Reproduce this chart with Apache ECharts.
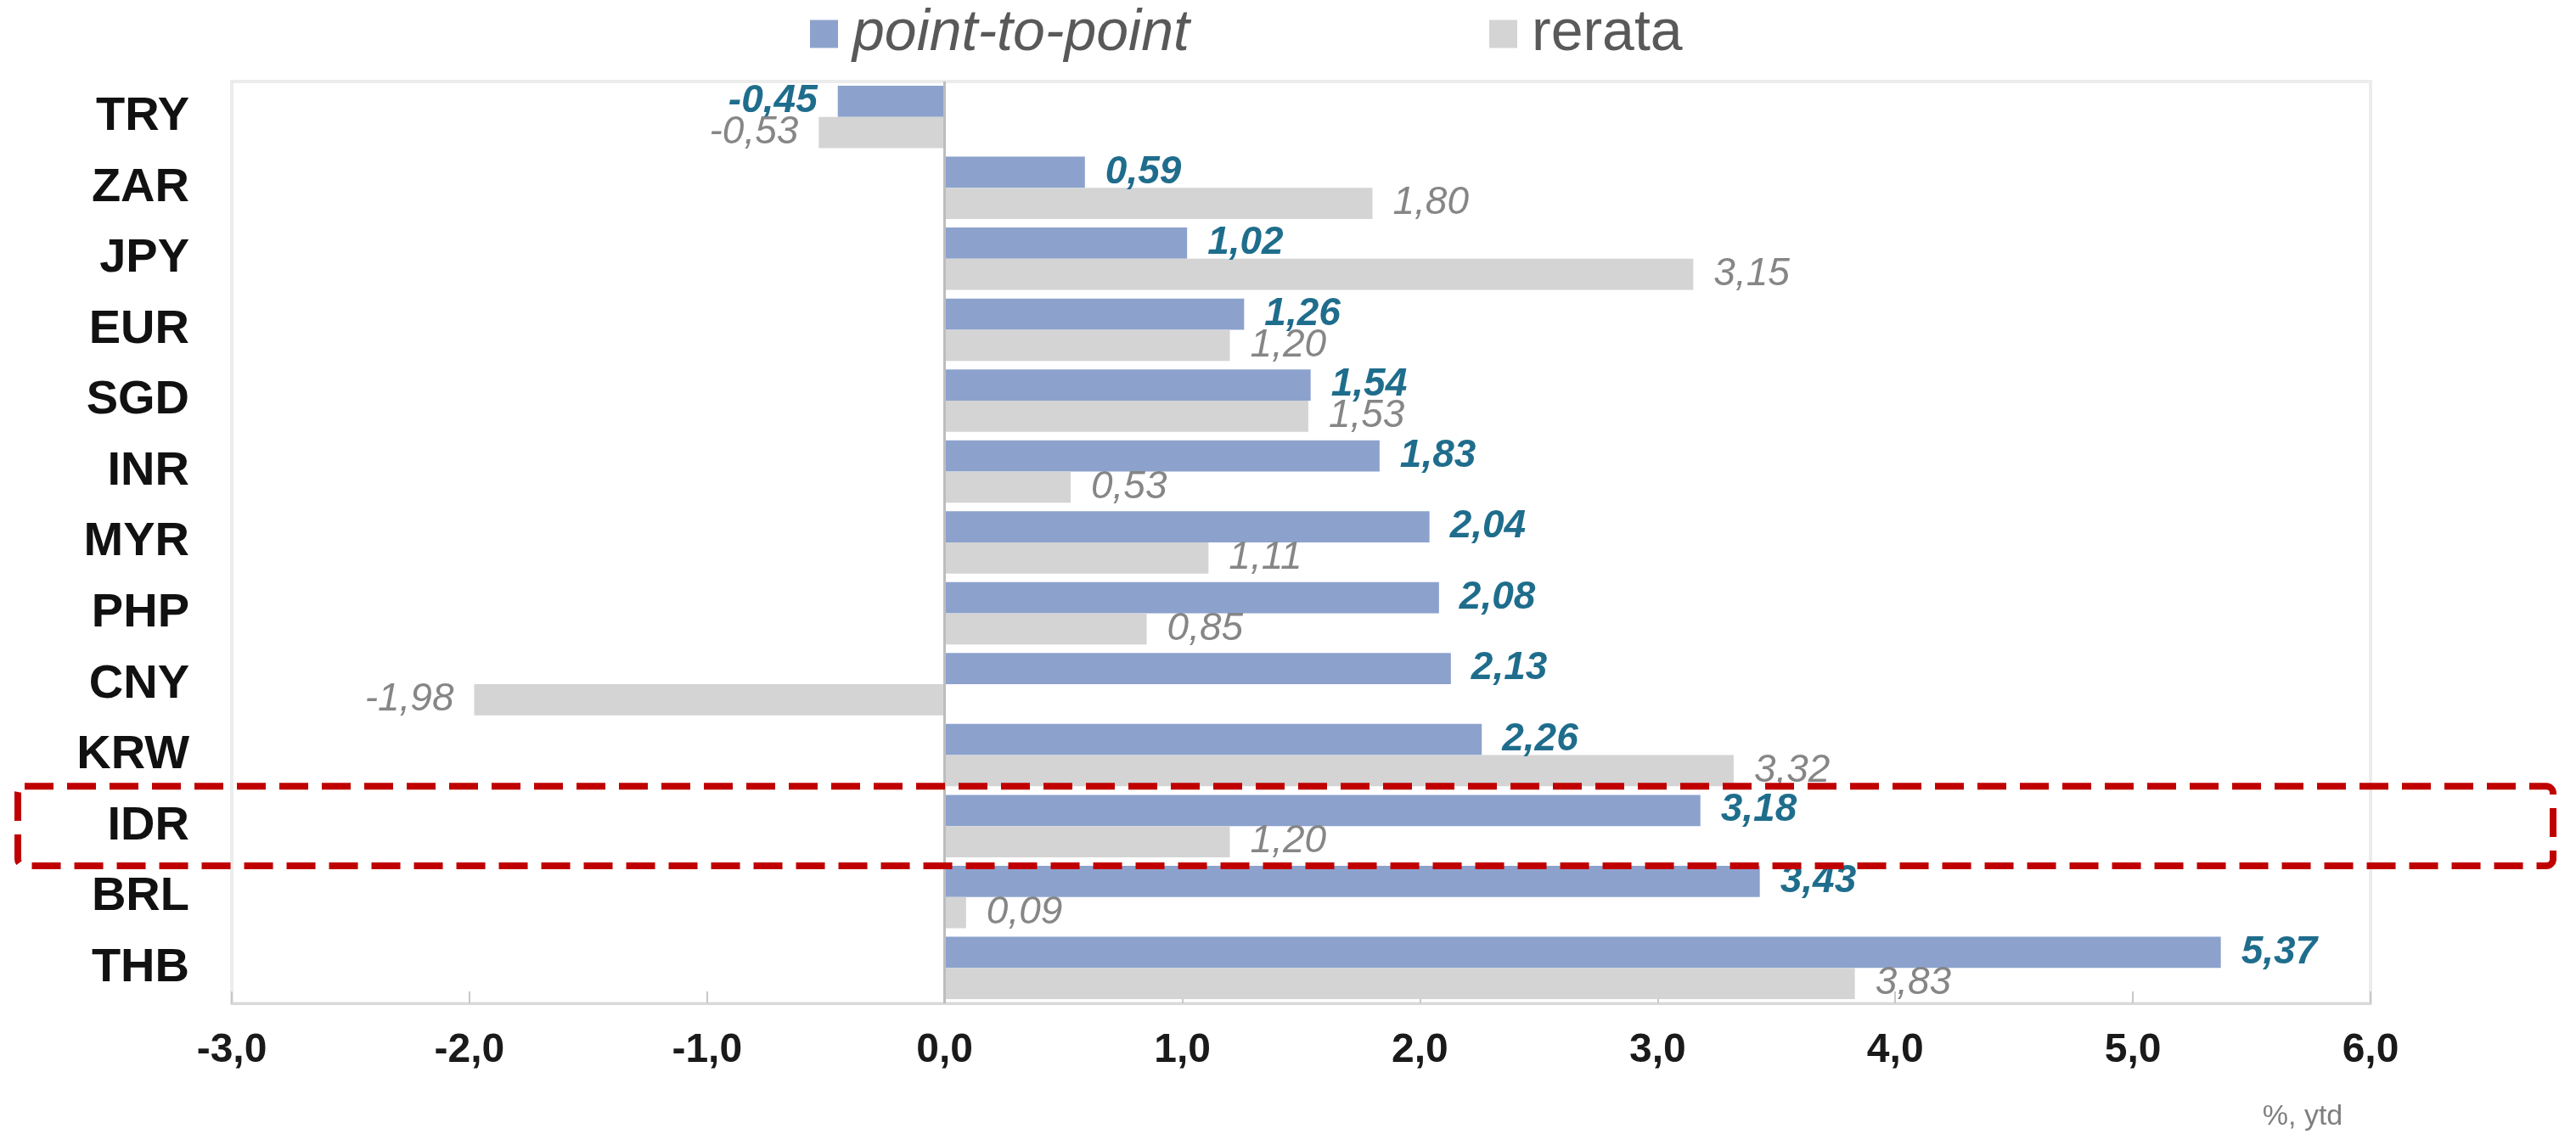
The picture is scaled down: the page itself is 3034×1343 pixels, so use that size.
<!DOCTYPE html>
<html>
<head>
<meta charset="utf-8">
<script src="https://cdn.jsdelivr.net/npm/echarts@6/dist/echarts.min.js"></script>
<style>
  html, body { margin: 0; padding: 0; background: #fff; }
  #chart { width: 3034px; height: 1343px; }
</style>
</head>
<body>
<div id="chart"></div>
<script>
// Currencies, top to bottom
const categories = ['TRY', 'ZAR', 'JPY', 'EUR', 'SGD', 'INR', 'MYR', 'PHP', 'CNY', 'KRW', 'IDR', 'BRL', 'THB'];
// Change vs USD, %, year to date
const pointToPoint = [-0.45, 0.59, 1.02, 1.26, 1.54, 1.83, 2.04, 2.08, 2.13, 2.26, 3.18, 3.43, 5.37];
const rerata = [-0.53, 1.80, 3.15, 1.20, 1.53, 0.53, 1.11, 0.85, -1.98, 3.32, 1.20, 0.09, 3.83];
// Value axis ticks
const xTicks = [-3, -2, -1, 0, 1, 2, 3, 4, 5, 6];
const highlighted = 'IDR';

const FONT = '"Liberation Sans", Arial, sans-serif';
const comma = (v, d) => v.toFixed(d).replace('.', ',');

// Labels sit outside the bar end: right for gains, left for losses
const toItems = arr => arr.map(v => ({ value: v, label: { position: v < 0 ? 'left' : 'right' } }));

const chart = echarts.init(document.getElementById('chart'), null, { renderer: 'canvas' });

const legendBase = {
  top: 6, padding: 0, icon: 'rect', itemWidth: 33, itemHeight: 33,
  selectedMode: false,
  textStyle: { fontFamily: FONT, fontSize: 68, color: '#595959', padding: [0, 0, 0, 12] }
};

chart.setOption({
  animation: false,
  textStyle: { fontFamily: FONT },
  legend: [
    Object.assign({}, legendBase, { left: 954, data: ['point-to-point'],
      textStyle: Object.assign({}, legendBase.textStyle, { fontStyle: 'italic' }) }),
    Object.assign({}, legendBase, { left: 1754, data: ['rerata'] })
  ],
  grid: {
    left: 273, right: 242, top: 96, bottom: 161,
    show: true, borderColor: '#ececec', borderWidth: 4, backgroundColor: 'transparent'
  },
  xAxis: {
    type: 'value',
    min: xTicks[0], max: xTicks[xTicks.length - 1], interval: xTicks[1] - xTicks[0],
    axisLine: { show: true, onZero: false, lineStyle: { color: '#d9d9d9', width: 3 } },
    axisTick: { show: true, inside: true, length: 14, lineStyle: { color: '#c8c8c8', width: 2 } },
    splitLine: { show: false },
    axisLabel: {
      margin: 32, fontSize: 48, fontWeight: 'bold', color: '#1a1a1a', fontFamily: FONT,
      formatter: v => comma(v, 1)
    }
  },
  yAxis: {
    type: 'category', data: categories, inverse: true,
    axisLine: { show: false }, axisTick: { show: false }, splitLine: { show: false },
    axisLabel: { margin: 50, fontSize: 56, fontWeight: 'bold', color: '#111', fontFamily: FONT }
  },
  series: [
    {
      name: 'point-to-point', type: 'bar', data: toItems(pointToPoint),
      barGap: '0%', barCategoryGap: '12%',
      itemStyle: { color: '#8ca2cd' },
      label: {
        show: true, distance: 24, fontSize: 46, fontStyle: 'italic', fontWeight: 'bold',
        color: '#1f6d8c', fontFamily: FONT, formatter: p => comma(p.value, 2)
      },
      markLine: {
        silent: true, symbol: 'none', label: { show: false },
        lineStyle: { color: '#bdbdbd', width: 3, type: 'solid' },
        data: [{ xAxis: 0 }]
      }
    },
    {
      name: 'rerata', type: 'bar', data: toItems(rerata),
      barGap: '0%', barCategoryGap: '12%',
      itemStyle: { color: '#d4d4d4' },
      label: {
        show: true, distance: 24, fontSize: 46, fontStyle: 'italic',
        color: '#868686', fontFamily: FONT, formatter: p => comma(p.value, 2)
      }
    }
  ]
});

// Dashed red frame around the highlighted currency row, placed from the axis scale
const idx = categories.indexOf(highlighted);
const yMid = chart.convertToPixel({ yAxisIndex: 0 }, categories[idx]);
const band = Math.abs(chart.convertToPixel({ yAxisIndex: 0 }, categories[1]) -
                      chart.convertToPixel({ yAxisIndex: 0 }, categories[0]));
const half = band * 0.56;

chart.setOption({
  graphic: [
    {
      type: 'rect', z: 100, silent: true,
      shape: { x: 21, y: yMid - half, width: 2986, height: half * 2, r: 8 },
      style: { fill: 'none', stroke: '#c00000', lineWidth: 8, lineDash: [34, 16] }
    },
    {
      type: 'text', z: 100, silent: true,
      style: { x: 2712, y: 1316, text: '%, ytd', fill: '#7f7f7f', font: '34px ' + FONT,
               align: 'center', verticalAlign: 'middle' }
    }
  ]
});
</script>
</body>
</html>
